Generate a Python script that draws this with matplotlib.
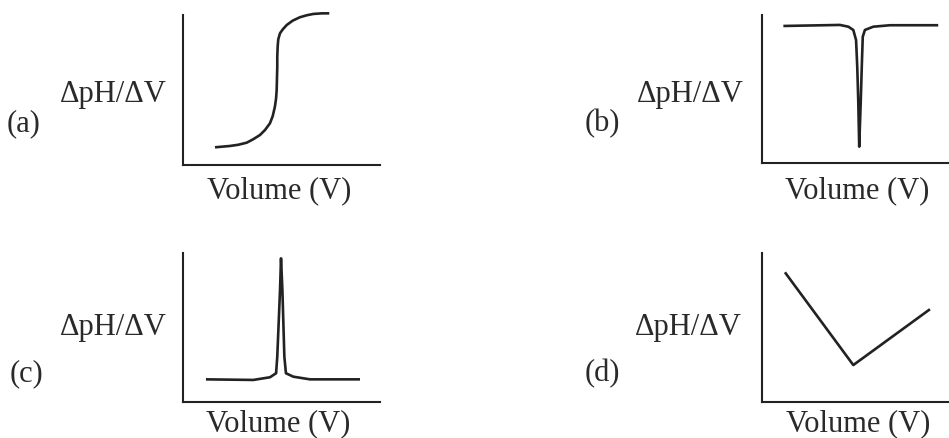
import matplotlib
matplotlib.use("Agg")
import matplotlib.pyplot as plt

plt.rcParams['font.family'] = ['Liberation Serif', 'DejaVu Serif']

W, H = 949, 438
DPI = 100

# ---- data (arbitrary units, 0-100 scale) ----
a_x = [16.1, 19.5, 23.7, 27.9, 32.2, 35.5, 38.9, 41.5, 44.0, 45.4, 46.5, 47.1, 47.4,
       47.7, 47.7, 47.9, 48.2, 49.1, 50.5, 52.5, 55.5, 59.2, 62.6, 66.0, 70.3, 74.1]
a_y = [11.5, 11.9, 12.4, 13.2, 14.6, 16.9, 19.7, 23.1, 27.6, 32.4, 38.7, 44.3, 49.8,
       65.4, 72.1, 78.8, 83.7, 87.8, 90.4, 93.3, 96.2, 98.5, 99.8, 100.7, 101.1, 101.1]

b_x = [11.0, 39.7, 44.0, 46.5, 47.9, 48.5, 49.0, 49.5, 50.3, 50.8, 51.3, 52.4, 56.6, 65.1, 89.6]
b_y = [92.6, 93.3, 92.1, 89.9, 83.1, 65.1, 42.7, 11.2, 42.7, 65.1, 85.4, 89.9, 92.1, 93.1, 93.1]

c_x = [11.5, 35.5, 44.0, 47.1, 47.7, 48.4, 49.1, 49.6, 50.3, 50.8, 51.3, 52.1, 55.8, 64.3, 89.7]
c_y = [15.0, 14.6, 16.4, 19.1, 30.2, 52.6, 75.0, 96.2, 75.0, 52.6, 30.2, 19.1, 16.8, 15.0, 15.0]

d_x = [11.8, 46.5, 85.4]
d_y = [86.9, 24.9, 62.2]

panel_labels = ['(a)', '(b)', '(c)', '(d)']
ylabel_text = 'ΔpH/ΔV'
xlabel_text = 'Volume (V)'

LINE_C = '#222222'
TEXT_C = '#2a2a2a'

fig = plt.figure(figsize=(W / DPI, H / DPI), dpi=DPI)


def px_axes(left, bottom, width, height):
    return fig.add_axes([left / W, 1 - bottom / H, width / W, height / H])


def fx(x):
    return x / W


def fy(y):
    return 1 - y / H


panels = [
    # left, bottom(px from top), height, data x, data y, ylabel right, ylabel base,
    # label left, label base, xlabel center, xlabel base
    (183.3, 164.5, 149.5, a_x, a_y, 167, 102, 7, 131.5, 279, 198.5),
    (761.7, 163.3, 148.3, b_x, b_y, 743.5, 102, 585, 131.5, 857, 198.5),
    (183.3, 401.7, 149.0, c_x, c_y, 167, 335, 10, 381.5, 278.5, 431.5),
    (761.7, 402.3, 149.6, d_x, d_y, 742, 335, 585, 381.5, 858.3, 431.5),
]

for i, (l, b, h, xs, ys, ylr, ylb, pl, pb, xc, xb) in enumerate(panels):
    ax = px_axes(l, b, 197, h)
    ax.plot(xs, ys, color=LINE_C, lw=1.9, solid_joinstyle='round',
            solid_capstyle='butt', clip_on=False)
    ax.set_xlim(0, 100)
    ax.set_ylim(0, 100)
    for s in ('top', 'right'):
        ax.spines[s].set_visible(False)
    for s in ('left', 'bottom'):
        ax.spines[s].set_linewidth(1.5)
        ax.spines[s].set_color(LINE_C)
    ax.set_xticks([])
    ax.set_yticks([])
    ax.patch.set_alpha(0)

    fig.text(fx(ylr), fy(ylb), ylabel_text, ha='right', va='baseline',
             fontsize=22, color=TEXT_C)
    fig.text(fx(pl), fy(pb), panel_labels[i], ha='left', va='baseline',
             fontsize=22, color=TEXT_C)
    fig.text(fx(xc), fy(xb), xlabel_text, ha='center', va='baseline',
             fontsize=22, color=TEXT_C)

fig.savefig('out.png', dpi=DPI)
